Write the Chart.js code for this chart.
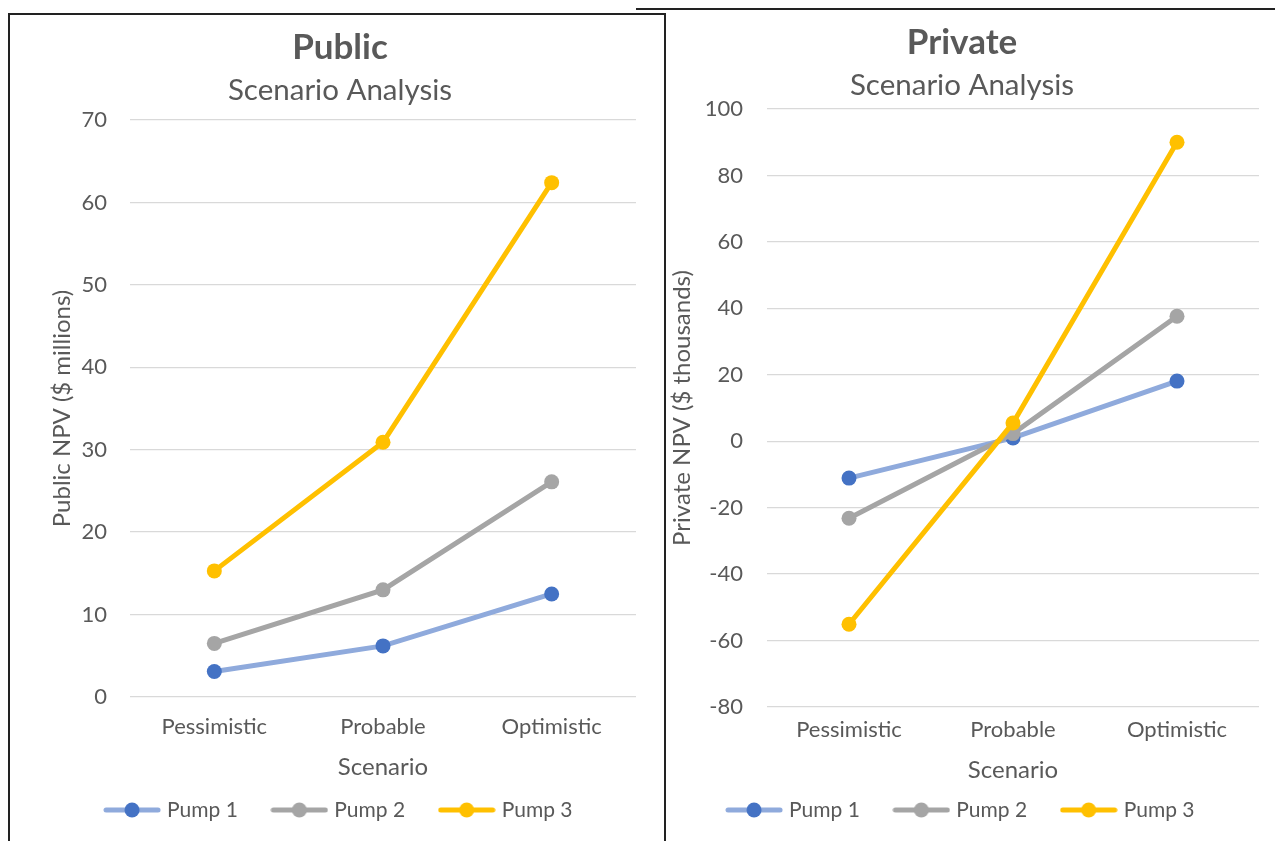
<!DOCTYPE html>
<html>
<head>
<meta charset="utf-8">
<script src="https://cdn.jsdelivr.net/npm/chart.js@4/dist/chart.umd.min.js"></script>
<style>
  html, body { margin: 0; padding: 0; background: #fff; }
  body { width: 1275px; height: 841px; position: relative; overflow: hidden; }
  .frame { position: absolute; box-sizing: border-box; }
  #frameLeft { left: 8px; top: 13px; width: 658px; height: 840px; border: 2px solid #222; border-bottom: none; }
  #frameRight { left: 636px; top: 8px; width: 639px; height: 2px; background: #222; }
  .box { position: absolute; }
  #boxLeft { left: 10px; top: 14px; width: 654px; height: 827px; }
  #boxRight { left: 665px; top: 9px; width: 610px; height: 832px; }
</style>
</head>
<body>
<div class="frame" id="frameRight"></div>
<div class="frame" id="frameLeft"></div>
<div class="box" id="boxLeft"><canvas id="publicChart"></canvas></div>
<div class="box" id="boxRight"><canvas id="privateChart"></canvas></div>
<script>
// Danh mục kịch bản
const scenarios = ["Pessimistic", "Probable", "Optimistic"];
const seriesNames = ["Pump 1", "Pump 2", "Pump 3"];

// NPV công cộng ($ millions)
const publicPump1 = [3.1, 6.2, 12.5];
const publicPump2 = [6.5, 13.0, 26.1];
const publicPump3 = [15.3, 30.9, 62.4];

// NPV tư nhân ($ thousands)
const privatePump1 = [-11.1, 1.0, 18.1];
const privatePump2 = [-23.2, 2.3, 37.6];
const privatePump3 = [-55.1, 5.5, 90.0];

// Nhãn trục
const publicTicks = { min: 0, max: 70, step: 10 };
const privateTicks = { min: -80, max: 100, step: 20 };

const lineColors = ["#8FAADC", "#A5A5A5", "#FFC000"];
const pointColors = ["#4472C4", "#A5A5A5", "#FFC000"];
const textColor = "#595959";
const fontFamily = "Lato, 'Open Sans', sans-serif";

// Biểu tượng chú giải: đường + chấm tròn
function makeLegendIcon(lineColor, dotColor) {
  const c = document.createElement("canvas");
  c.width = 58;
  c.height = 16;
  const g = c.getContext("2d");
  g.strokeStyle = lineColor;
  g.lineWidth = 5;
  g.lineCap = "round";
  g.beginPath();
  g.moveTo(3, 8);
  g.lineTo(55, 8);
  g.stroke();
  g.fillStyle = dotColor;
  g.beginPath();
  g.arc(29, 8, 7.5, 0, Math.PI * 2);
  g.fill();
  return c;
}
const legendIcons = lineColors.map((c, i) => makeLegendIcon(c, pointColors[i]));

function buildDatasets(values) {
  return values.map((vals, i) => ({
    label: seriesNames[i],
    data: vals,
    borderColor: lineColors[i],
    backgroundColor: pointColors[i],
    pointBackgroundColor: pointColors[i],
    pointBorderColor: pointColors[i],
    pointBorderWidth: 0,
    pointRadius: 7.5,
    borderWidth: 5,
    tension: 0,
    order: 2 - i, // Pump 3 nằm trên cùng
  }));
}

function makeChart(canvasId, cfg) {
  const ctx = document.getElementById(canvasId).getContext("2d");
  return new Chart(ctx, {
    type: "line",
    data: {
      labels: scenarios,
      datasets: buildDatasets(cfg.values),
    },
    options: {
      responsive: true,
      maintainAspectRatio: false,
      animation: false,
      layout: { padding: cfg.padding },
      plugins: {
        title: {
          display: true,
          text: cfg.title,
          color: textColor,
          font: { family: fontFamily, size: 35, weight: "bold" },
          padding: { top: 13, bottom: 0 },
        },
        subtitle: {
          display: true,
          text: "Scenario Analysis",
          color: textColor,
          font: { family: fontFamily, size: 29.5, weight: "normal" },
          padding: { top: 3.3, bottom: cfg.subtitleBottom },
        },
        legend: {
          position: "bottom",
          labels: {
            color: textColor,
            font: { family: fontFamily, size: 21 },
            usePointStyle: true,
            pointStyleWidth: 49,
            padding: 37,
            generateLabels: (chart) => {
              const items = Chart.defaults.plugins.legend.labels.generateLabels(chart);
              items.forEach((item) => {
                item.pointStyle = legendIcons[item.datasetIndex];
              });
              // Giữ thứ tự Pump 1, 2, 3
              return items.sort((a, b) => a.datasetIndex - b.datasetIndex);
            },
          },
        },
        tooltip: { enabled: false },
      },
      scales: {
        x: {
          offset: true,
          grid: { display: false, drawTicks: false },
          border: { display: false },
          ticks: {
            color: textColor,
            font: { family: fontFamily, size: 22 },
            padding: cfg.xTickPad,
          },
          title: {
            display: true,
            text: "Scenario",
            color: textColor,
            font: { family: fontFamily, size: 24 },
            padding: { top: 0, bottom: cfg.xTitlePad },
          },
          afterFit: (scale) => { scale.height = cfg.xHeight; },
        },
        y: {
          min: cfg.ticks.min,
          max: cfg.ticks.max,
          grid: { color: "#D9D9D9", lineWidth: 1.3, drawTicks: false },
          border: { display: false },
          ticks: {
            stepSize: cfg.ticks.step,
            color: textColor,
            font: { family: fontFamily, size: 22 },
            padding: cfg.yTickPad,
          },
          title: {
            display: true,
            text: cfg.yTitle,
            color: textColor,
            font: { family: fontFamily, size: 24 },
            padding: { top: cfg.yTitlePad, bottom: 0 },
          },
          afterFit: (scale) => { scale.width = cfg.yWidth; },
        },
      },
    },
  });
}

makeChart("publicChart", {
  title: "Public",
  yTitle: "Public NPV ($ millions)",
  values: [publicPump1, publicPump2, publicPump3],
  ticks: publicTicks,
  padding: { left: 34, right: 28, top: 0, bottom: 10.5 },
  subtitleBottom: 12.3,
  xHeight: 65.5,
  xTickPad: 16.8,
  xTitlePad: -18.9,
  yWidth: 86,
  yTickPad: 23,
  yTitlePad: 3.6,
});

makeChart("privateChart", {
  title: "Private",
  yTitle: "Private NPV ($ thousands)",
  values: [privatePump1, privatePump2, privatePump3],
  ticks: privateTicks,
  padding: { left: 0, right: 16, top: 0, bottom: 10.5 },
  subtitleBottom: 6.3,
  xHeight: 55.5,
  xTickPad: 9.8,
  xTitlePad: -21.9,
  yWidth: 102,
  yTickPad: 24,
  yTitlePad: 2.6,
});
</script>
</body>
</html>
